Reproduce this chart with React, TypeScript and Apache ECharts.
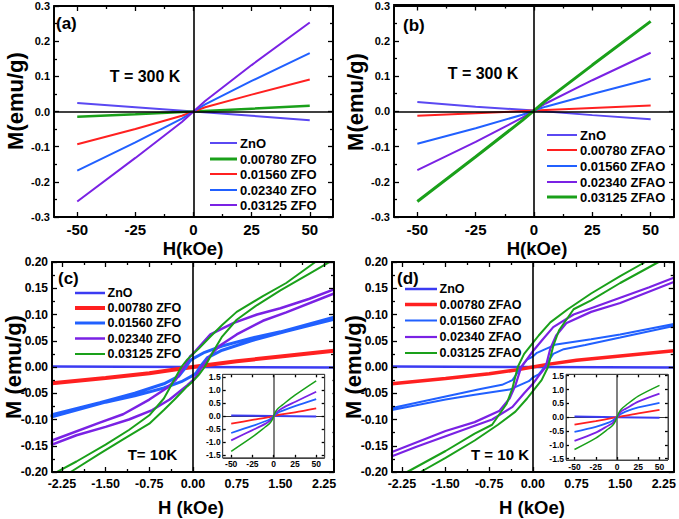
import React, { useEffect, useRef } from "react";
import * as echarts from "echarts";

const FONT = "'Liberation Sans', Arial, Helvetica, sans-serif";

// ---------- Panel (a): T = 300 K, ZFO ----------
const aZnO = [[-50, 0.024], [-25, 0.012], [0, 0], [25, -0.012], [50, -0.025]];
const aZFO1 = [[-50, -0.015], [-25, -0.008], [0, 0], [25, 0.008], [50, 0.016]];
const aZFO2 = [[-50, -0.093], [-25, -0.05], [-5, -0.012], [0, 0], [5, 0.012], [25, 0.048], [50, 0.091]];
const aZFO3 = [[-50, -0.168], [-25, -0.088], [-5, -0.02], [0, 0], [5, 0.02], [25, 0.087], [50, 0.166]];
const aZFO4 = [[-50, -0.256], [-25, -0.132], [-5, -0.03], [0, 0], [5, 0.03], [25, 0.132], [50, 0.253]];

// ---------- Panel (b): T = 300 K, ZFAO ----------
const bZnO = [[-50, 0.026], [-25, 0.013], [0, 0.002], [25, -0.011], [50, -0.023]];
const bZFAO1 = [[-50, -0.013], [-25, -0.006], [0, 0.002], [25, 0.009], [50, 0.016]];
const bZFAO2 = [[-50, -0.092], [-25, -0.048], [-5, -0.01], [0, 0.002], [5, 0.013], [25, 0.049], [50, 0.092]];
const bZFAO3 = [[-50, -0.167], [-25, -0.087], [-5, -0.018], [0, 0.002], [5, 0.022], [25, 0.088], [50, 0.166]];
const bZFAO4 = [[-50, -0.256], [-25, -0.129], [-5, -0.026], [0, 0.002], [5, 0.03], [25, 0.131], [50, 0.255]];

// ---------- Panel (c): T = 10 K, ZFO (upper / lower branches) ----------
const cZnO = [[-2.42, 0.001], [0, 0], [2.42, -0.001]];
const cZFO1 = [[-2.42, -0.031], [-1.5, -0.021], [-0.75, -0.012], [-0.25, -0.004], [0, 0], [0.25, 0.004], [0.75, 0.011], [1.5, 0.02], [2.42, 0.031]];
const cZFO2Upper = [[-2.42, -0.091], [-1.6, -0.068], [-1.0, -0.05], [-0.5, -0.032], [-0.25, -0.018], [-0.12, 0], [-0.05, 0.012], [0, 0.016], [0.2, 0.028], [0.5, 0.04], [1.0, 0.055], [1.5, 0.067], [2.42, 0.095]];
const cZFO2Lower = [[-2.42, -0.095], [-1.5, -0.067], [-1.0, -0.055], [-0.5, -0.04], [-0.2, -0.028], [0, -0.016], [0.05, -0.012], [0.12, 0], [0.25, 0.018], [0.5, 0.032], [1.0, 0.05], [1.6, 0.068], [2.42, 0.091]];
const cZFO3Upper = [[-2.42, -0.14], [-1.6, -0.106], [-1.2, -0.09], [-0.75, -0.062], [-0.45, -0.04], [-0.3, -0.025], [-0.15, 0], [-0.05, 0.02], [0, 0.025], [0.3, 0.062], [0.7, 0.084], [1.1, 0.1], [1.5, 0.112], [2.0, 0.13], [2.42, 0.148]];
const cZFO3Lower = [[-2.42, -0.148], [-2.0, -0.13], [-1.5, -0.114], [-1.1, -0.1], [-0.7, -0.082], [-0.4, -0.062], [-0.1, -0.035], [0, -0.025], [0.05, -0.018], [0.15, 0], [0.3, 0.022], [0.45, 0.04], [0.75, 0.062], [1.2, 0.088], [1.6, 0.104], [2.42, 0.14]];
const cZFO4Upper = [[-2.42, -0.205], [-2.0, -0.18], [-1.5, -0.148], [-1.1, -0.12], [-0.75, -0.092], [-0.5, -0.06], [-0.35, -0.03], [-0.2, 0], [-0.1, 0.014], [0, 0.025], [0.1, 0.035], [0.3, 0.058], [0.5, 0.08], [0.75, 0.105], [1.2, 0.135], [1.6, 0.16], [2.1, 0.2], [2.42, 0.218]];
const cZFO4Lower = [[-2.42, -0.218], [-2.1, -0.2], [-1.6, -0.165], [-1.2, -0.138], [-0.75, -0.108], [-0.5, -0.082], [-0.3, -0.06], [-0.1, -0.037], [0, -0.027], [0.1, -0.015], [0.2, 0], [0.35, 0.03], [0.5, 0.058], [0.75, 0.09], [1.1, 0.118], [1.5, 0.146], [2.0, 0.178], [2.42, 0.205]];

// ---------- Panel (d): T = 10 K, ZFAO ----------
const dZnO = [[-2.42, 0.001], [0, 0], [2.42, -0.001]];
const dZFAO1 = [[-2.42, -0.032], [-1.5, -0.022], [-0.75, -0.013], [-0.25, -0.005], [0, 0], [0.25, 0.005], [0.75, 0.013], [1.5, 0.021], [2.42, 0.031]];
const dZFAO2Upper = [[-2.42, -0.078], [-1.5, -0.056], [-0.9, -0.042], [-0.53, -0.034], [-0.35, -0.025], [-0.2, 0], [-0.1, 0.014], [0, 0.02], [0.07, 0.027], [0.4, 0.043], [1.0, 0.053], [1.5, 0.062], [2.42, 0.082]];
const dZFAO2Lower = [[-2.42, -0.082], [-1.5, -0.062], [-1.0, -0.053], [-0.4, -0.043], [-0.07, -0.027], [0, -0.02], [0.1, -0.014], [0.2, 0], [0.35, 0.025], [0.53, 0.034], [0.9, 0.042], [1.5, 0.056], [2.42, 0.078]];
const dZFAO3Upper = [[-2.42, -0.162], [-1.5, -0.122], [-1.0, -0.105], [-0.58, -0.084], [-0.4, -0.06], [-0.3, -0.035], [-0.2, 0], [-0.1, 0.015], [0, 0.03], [0.15, 0.05], [0.35, 0.076], [0.7, 0.1], [1.0, 0.112], [1.5, 0.132], [2.0, 0.152], [2.42, 0.17]];
const dZFAO3Lower = [[-2.42, -0.17], [-2.0, -0.152], [-1.5, -0.132], [-1.0, -0.112], [-0.7, -0.1], [-0.35, -0.076], [-0.15, -0.05], [0, -0.032], [0.1, -0.017], [0.22, 0], [0.3, 0.035], [0.4, 0.06], [0.58, 0.084], [1.0, 0.105], [1.5, 0.122], [2.42, 0.162]];
const dZFAO4Upper = [[-2.42, -0.225], [-2.16, -0.2], [-1.5, -0.16], [-1.0, -0.127], [-0.7, -0.11], [-0.45, -0.07], [-0.35, -0.04], [-0.26, 0], [-0.15, 0.025], [0, 0.046], [0.1, 0.06], [0.3, 0.085], [0.6, 0.11], [1.0, 0.14], [1.5, 0.173], [1.93, 0.2], [2.42, 0.232]];
const dZFAO4Lower = [[-2.42, -0.232], [-1.93, -0.2], [-1.5, -0.173], [-1.0, -0.14], [-0.6, -0.11], [-0.3, -0.085], [-0.1, -0.06], [0, -0.046], [0.15, -0.025], [0.26, 0], [0.35, 0.04], [0.45, 0.07], [0.7, 0.11], [1.0, 0.127], [1.5, 0.16], [2.16, 0.2], [2.42, 0.225]];

// ---------- Insets (full field range) ----------
const ciZnO = [[-50, 0.02], [0, 0], [50, -0.02]];
const ciZFO1 = [[-50, -0.29], [-25, -0.15], [-5, -0.04], [0, 0], [5, 0.04], [25, 0.14], [50, 0.29]];
const ciZFO2 = [[-50, -0.65], [-25, -0.38], [-10, -0.2], [-5, -0.13], [0, 0], [5, 0.13], [10, 0.2], [25, 0.38], [50, 0.65]];
const ciZFO3 = [[-50, -0.93], [-25, -0.54], [-10, -0.3], [-5, -0.19], [-2, -0.1], [0, 0], [2, 0.1], [5, 0.19], [10, 0.3], [25, 0.54], [50, 0.93]];
const ciZFO4 = [[-50, -1.35], [-25, -0.8], [-10, -0.42], [-5, -0.29], [-2, -0.16], [0, 0], [2, 0.16], [5, 0.29], [10, 0.42], [25, 0.8], [50, 1.35]];

const diZnO = [[-50, 0.02], [0, 0], [50, -0.02]];
const diZFAO1 = [[-50, -0.27], [-25, -0.14], [-5, -0.03], [0, 0], [5, 0.03], [25, 0.14], [50, 0.26]];
const diZFAO2 = [[-50, -0.53], [-25, -0.35], [-10, -0.2], [-5, -0.12], [0, 0], [5, 0.12], [10, 0.2], [25, 0.35], [50, 0.52]];
const diZFAO3 = [[-50, -0.86], [-25, -0.56], [-10, -0.3], [-5, -0.21], [0, 0], [5, 0.21], [10, 0.3], [25, 0.56], [50, 0.85]];
const diZFAO4 = [[-50, -1.17], [-25, -0.76], [-10, -0.42], [-5, -0.29], [-2, -0.15], [0, 0], [2, 0.15], [5, 0.29], [10, 0.42], [25, 0.76], [50, 1.15]];

// ---------- Axis ranges, ticks and labels ----------
const rangeA = { xmin: -60, xmax: 60, ymin: -0.3, ymax: 0.3 };
const rangeC = { xmin: -2.42, xmax: 2.42, ymin: -0.2, ymax: 0.2 };
const ticksA = [-50, -25, 0, 25, 50];
const minorA = [-37.5, -12.5, 12.5, 37.5];
const ticksC = [-2.25, -1.5, -0.75, 0, 0.75, 1.5, 2.25];
const minorC = [-1.875, -1.125, -0.375, 0.375, 1.125, 1.875];
const insetXTicks = [-50, -25, 0, 25, 50];
const insetYTicks = [-1.5, -1.0, -0.5, 0, 0.5, 1.0, 1.5];

const namesZFO = ["ZnO", "0.00780 ZFO", "0.01560 ZFO", "0.02340 ZFO", "0.03125 ZFO"];
const namesZFAO = ["ZnO", "0.00780 ZFAO", "0.01560 ZFAO", "0.02340 ZFAO", "0.03125 ZFAO"];

const ZNO = "#5a48f2";
const ZNO2 = "#3b3bf2";
const GREEN = "#1aa01a";
const RED = "#ff2020";
const BLUE = "#2160ff";
const VIOLET = "#7a22e4";

const bold = (s: number) => `bold ${s}px ${FONT}`;

// panel frames [left, top, width, height]
const frames = [
  [54, 6, 279, 211],
  [394, 5, 280, 212],
  [52, 262, 282, 210],
  [392, 262, 282, 210],
  [222.7, 374.3, 102, 83.5],
  [566, 374.3, 102, 85.7],
];

function buildOption() {
  const xAxes: any[] = [];
  const yAxes: any[] = [];
  const series: any[] = [];
  const graphics: any[] = [];

  const tickStyle = { color: "#000", width: 1.3 };
  const noLine = { show: false, onZero: false };

  function xSet(grid: number, min: number, max: number, majors: number[], minors: number[] | null,
    fmt: (v: number) => string, fs: number, margin: number, len: number, z: number) {
    const base: any = { type: "value", gridIndex: grid, min, max, z, splitLine: { show: false }, axisLine: noLine };
    xAxes.push({ ...base, position: "bottom",
      axisTick: { show: true, inside: true, length: len, customValues: majors, lineStyle: tickStyle },
      axisLabel: { show: true, customValues: majors, formatter: fmt, fontSize: fs, fontWeight: "bold", fontFamily: FONT, color: "#000", margin } });
    const idx = xAxes.length - 1;
    xAxes.push({ ...base, position: "top",
      axisTick: { show: true, inside: true, length: len, customValues: majors, lineStyle: tickStyle },
      axisLabel: { show: false } });
    if (minors) {
      for (const pos of ["bottom", "top"]) {
        xAxes.push({ ...base, position: pos,
          axisTick: { show: true, inside: true, length: len * 0.6, customValues: minors, lineStyle: tickStyle },
          axisLabel: { show: false } });
      }
    }
    return idx;
  }

  function ySet(grid: number, min: number, max: number, interval: number | null, custom: number[] | null,
    fmt: (v: number) => string, fs: number, margin: number, len: number, z: number) {
    const base: any = { type: "value", gridIndex: grid, min, max, z, splitLine: { show: false }, axisLine: noLine };
    if (interval) base.interval = interval;
    const tick: any = { show: true, inside: true, length: len, lineStyle: tickStyle };
    if (custom) tick.customValues = custom;
    const minor = interval ? { show: true, splitNumber: 2, length: len * 0.6, lineStyle: tickStyle } : { show: false };
    const lab: any = { show: true, formatter: fmt, fontSize: fs, fontWeight: "bold", fontFamily: FONT, color: "#000", margin };
    if (custom) lab.customValues = custom;
    yAxes.push({ ...base, position: "left", axisTick: tick, minorTick: minor, axisLabel: lab });
    const idx = yAxes.length - 1;
    yAxes.push({ ...base, position: "right", axisTick: tick, minorTick: minor, axisLabel: { show: false } });
    return idx;
  }

  function addLine(data: number[][], color: string, width: number, xi: number, yi: number, z: number, extra: any = {}) {
    series.push({ type: "line", data, xAxisIndex: xi, yAxisIndex: yi, symbol: "none", showSymbol: false,
      lineStyle: { color, width }, itemStyle: { color }, silent: true, clip: true, z, ...extra });
  }
  const loop = (upper: number[][], lower: number[][]) => [...upper.slice().reverse(), ...lower];

  // frame + zero lines, drawn as mark lines on a line series (not clipped)
  function frameMarks(r: any, zeroH: boolean, zeroV: boolean, frameStyle: any, vStyle: any, hStyle: any) {
    const data: any[] = [
      { xAxis: r.xmin, lineStyle: frameStyle },
      { xAxis: r.xmax, lineStyle: frameStyle },
      { yAxis: r.ymin, lineStyle: frameStyle },
      { yAxis: r.ymax, lineStyle: frameStyle },
    ];
    if (zeroV) data.push({ xAxis: 0, lineStyle: vStyle });
    if (zeroH) data.push({ yAxis: 0, lineStyle: hStyle });
    return { silent: true, symbol: ["none", "none"], label: { show: false }, animation: false, data };
  }

  const f0 = (v: number) => String(Math.round(v));
  const f1 = (v: number) => (Math.abs(v) < 1e-9 ? 0 : v).toFixed(1);
  const f2 = (v: number) => (Math.abs(v) < 1e-9 ? 0 : v).toFixed(2);
  const blackZero = { color: "#000", width: 1.6, type: "solid" };
  const blackFrame = { color: "#000", width: 1.8, type: "solid" };

  // (a)
  let xi = xSet(0, rangeA.xmin, rangeA.xmax, ticksA, minorA, f0, 15, 5, 5, 3);
  let yi = ySet(0, rangeA.ymin, rangeA.ymax, 0.1, null, f1, 11, 4, 5, 3);
  addLine(aZnO, ZNO, 2, xi, yi, 1, { clip: false, markLine: frameMarks(rangeA, true, true, blackFrame, blackZero, blackZero) });
  addLine(aZFO1, GREEN, 2.5, xi, yi, 2);
  addLine(aZFO2, RED, 2, xi, yi, 2);
  addLine(aZFO3, BLUE, 2, xi, yi, 2);
  addLine(aZFO4, VIOLET, 2, xi, yi, 2);

  // (b)
  xi = xSet(1, rangeA.xmin, rangeA.xmax, ticksA, minorA, f0, 15, 5, 5, 3);
  yi = ySet(1, rangeA.ymin, rangeA.ymax, 0.1, null, f1, 11, 4, 5, 3);
  addLine(bZnO, ZNO, 2, xi, yi, 1, { clip: false, markLine: frameMarks(rangeA, true, true, blackFrame, blackZero, blackZero) });
  addLine(bZFAO1, RED, 2, xi, yi, 2);
  addLine(bZFAO2, BLUE, 2, xi, yi, 2);
  addLine(bZFAO3, VIOLET, 2, xi, yi, 2);
  addLine(bZFAO4, GREEN, 3, xi, yi, 2);

  // (c)
  xi = xSet(2, rangeC.xmin, rangeC.xmax, ticksC, minorC, f2, 12.5, 5, 5, 3);
  yi = ySet(2, rangeC.ymin, rangeC.ymax, 0.05, null, f2, 12, 4, 5, 3);
  addLine(cZnO, ZNO2, 2.5, xi, yi, 1, { clip: false, markLine: frameMarks(rangeC, false, true, blackFrame, blackZero, null) });
  addLine(cZFO1, RED, 4, xi, yi, 2);
  addLine(loop(cZFO2Upper, cZFO2Lower), BLUE, 3, xi, yi, 2);
  addLine(loop(cZFO3Upper, cZFO3Lower), VIOLET, 2.5, xi, yi, 2);
  addLine(loop(cZFO4Upper, cZFO4Lower), GREEN, 2, xi, yi, 2);

  // (d)
  xi = xSet(3, rangeC.xmin, rangeC.xmax, ticksC, minorC, f2, 12.5, 5, 5, 3);
  yi = ySet(3, rangeC.ymin, rangeC.ymax, 0.05, null, f2, 12, 4, 5, 3);
  addLine(dZnO, ZNO2, 2.5, xi, yi, 1, { clip: false, markLine: frameMarks(rangeC, false, true, blackFrame, blackZero, null) });
  addLine(dZFAO1, RED, 3.5, xi, yi, 2);
  addLine(loop(dZFAO2Upper, dZFAO2Lower), BLUE, 2, xi, yi, 2);
  addLine(loop(dZFAO3Upper, dZFAO3Lower), VIOLET, 2.2, xi, yi, 2);
  addLine(loop(dZFAO4Upper, dZFAO4Lower), GREEN, 2, xi, yi, 2);

  // insets
  const grayV = { color: "#808080", width: 2, type: "solid" };
  const darkH = { color: "#333", width: 1, type: "solid" };
  const insetFrame = { color: "#444", width: 1, type: "solid" };
  const rangeCi = { xmin: -60, xmax: 60, ymin: -1.6, ymax: 1.6 };
  const rangeDi = { xmin: -60, xmax: 60, ymin: -1.55, ymax: 1.55 };
  xi = xSet(4, rangeCi.xmin, rangeCi.xmax, insetXTicks, null, f0, 8.5, 2, 3, 12);
  yi = ySet(4, rangeCi.ymin, rangeCi.ymax, null, insetYTicks, f1, 8.5, 2, 3, 12);
  addLine(ciZnO, ZNO2, 2, xi, yi, 11, { clip: false, markLine: frameMarks(rangeCi, true, true, insetFrame, grayV, darkH) });
  addLine(ciZFO1, RED, 1.8, xi, yi, 11, { smooth: 0.3 });
  addLine(ciZFO2, BLUE, 1.8, xi, yi, 11, { smooth: 0.3 });
  addLine(ciZFO3, VIOLET, 1.8, xi, yi, 11, { smooth: 0.3 });
  addLine(ciZFO4, GREEN, 1.5, xi, yi, 11, { smooth: 0.3 });

  xi = xSet(5, rangeDi.xmin, rangeDi.xmax, insetXTicks, null, f0, 8.5, 2, 3, 12);
  yi = ySet(5, rangeDi.ymin, rangeDi.ymax, null, insetYTicks, f1, 8.5, 2, 3, 12);
  addLine(diZnO, ZNO2, 2, xi, yi, 11, { clip: false, markLine: frameMarks(rangeDi, true, true, insetFrame, grayV, darkH) });
  addLine(diZFAO1, RED, 1.8, xi, yi, 11, { smooth: 0.3 });
  addLine(diZFAO2, BLUE, 1.8, xi, yi, 11, { smooth: 0.3 });
  addLine(diZFAO3, VIOLET, 1.8, xi, yi, 11, { smooth: 0.3 });
  addLine(diZFAO4, GREEN, 1.5, xi, yi, 11, { smooth: 0.3 });

  // graphics: texts, legends, inset backgrounds, backup frames
  const text = (t: string, x: number, y: number, size: number, opts: any = {}) => ({
    type: "text", x, y, z: 20, rotation: opts.rotation || 0, silent: true,
    style: {
      text: t, font: bold(size), fill: "#000",
      align: opts.align || "center", verticalAlign: "middle",
    },
  });
  const legend = (x0: number, x1: number, tx: number, ys: number[], names: string[], colors: string[], widths: number[], fs: number) => {
    ys.forEach((y, i) => {
      graphics.push({ type: "line", z: 20, silent: true, shape: { x1: x0, y1: y, x2: x1, y2: y }, style: { stroke: colors[i], lineWidth: widths[i] } });
      graphics.push(text(names[i], tx, y, fs, { align: "left" }));
    });
  };

  graphics.push({ type: "rect", z: 5, silent: true, shape: { x: 203, y: 372, width: 129.5, height: 99 }, style: { fill: "#fff" } });
  graphics.push({ type: "rect", z: 5, silent: true, shape: { x: 548, y: 372, width: 125.5, height: 99 }, style: { fill: "#fff" } });
  frames.forEach((f, i) => {
    graphics.push({
      type: "rect", z: i < 4 ? 15 : 16, silent: true,
      shape: { x: f[0], y: f[1], width: f[2], height: f[3] },
      style: { fill: "none", stroke: i < 4 ? "#000" : "#444", lineWidth: i < 4 ? 1.8 : 1 },
    });
  });

  legend(210, 237, 240, [143, 159, 174, 190, 205], namesZFO, [ZNO, GREEN, RED, BLUE, VIOLET], [2, 3, 2, 2, 2], 13);
  legend(547, 577, 580, [135, 150, 166, 182, 197], namesZFAO, [ZNO, RED, BLUE, VIOLET, GREEN], [2, 2, 2, 2, 3], 13);
  legend(75, 105, 107.5, [293, 308, 323, 338.5, 354], namesZFO, [ZNO2, RED, BLUE, VIOLET, GREEN], [2.5, 4, 3, 2.5, 2], 12.5);
  legend(405, 437, 439.5, [289, 304.5, 320.5, 337, 353], namesZFAO, [ZNO2, RED, BLUE, VIOLET, GREEN], [2.5, 3.5, 2, 2.2, 2], 12.5);

  graphics.push(text("(a)", 56, 23, 17, { align: "left" }));
  graphics.push(text("(b)", 403, 25, 17, { align: "left" }));
  graphics.push(text("(c)", 58, 278, 17, { align: "left" }));
  graphics.push(text("(d)", 397, 278, 17, { align: "left" }));

  graphics.push(text("T = 300 K", 145, 76, 16));
  graphics.push(text("T = 300 K", 483, 73, 16));
  graphics.push(text("T= 10K", 152.5, 454, 15));
  graphics.push(text("T = 10 K", 500, 454, 15));

  graphics.push(text("M(emu/g)", 15, 101, 22, { rotation: Math.PI / 2 }));
  graphics.push(text("M(emu/g)", 355, 102, 22, { rotation: Math.PI / 2 }));
  graphics.push(text("M (emu/g)", 13.5, 367, 22, { rotation: Math.PI / 2 }));
  graphics.push(text("M (emu/g)", 353.5, 367, 22, { rotation: Math.PI / 2 }));
  graphics.push(text("H(kOe)", 193, 248, 18.5));
  graphics.push(text("H(kOe)", 537, 248, 18.5));
  graphics.push(text("H (kOe)", 191, 507, 18.5));
  graphics.push(text("H (kOe)", 532, 507, 18.5));

  return {
    animation: false,
    backgroundColor: "#fff",
    textStyle: { fontFamily: FONT },
    grid: frames.map((f) => ({ left: f[0], top: f[1], width: f[2], height: f[3], containLabel: false })),
    xAxis: xAxes,
    yAxis: yAxes,
    series,
    graphic: { elements: graphics },
  };
}

export default function App() {
  const ref = useRef<HTMLDivElement>(null);
  useEffect(() => {
    if (!ref.current) return;
    const chart = echarts.init(ref.current, null, { renderer: "svg" });
    chart.setOption(buildOption() as any);
    return () => chart.dispose();
  }, []);
  return (
    <div
      ref={ref}
      style={{ position: "fixed", left: 0, top: 0, width: 679, height: 519, background: "#fff" }}
    />
  );
}
